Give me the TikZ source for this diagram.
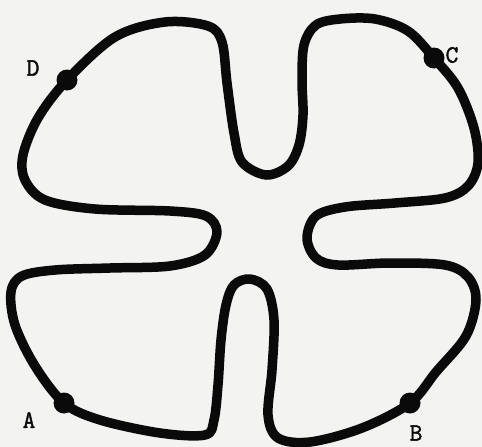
\documentclass[tikz,border=0pt]{standalone}
\usepackage{fontspec}
\newfontfamily\labelfont[FakeBold=1.5]{Latin Modern Mono}
\definecolor{paper}{HTML}{F3F3F1}
\definecolor{ink}{HTML}{0A0A0A}
\tikzset{
  loopline/.style={draw=ink,line width=9.5pt,line join=round},
  pointdot/.style={circle,fill=ink,inner sep=0pt,minimum size=21pt},
  ptlabel/.style={font=\labelfont\fontsize{25}{25}\selectfont,text=ink,inner sep=0pt}
}
\begin{document}
\begin{tikzpicture}[x=1pt,y=-1pt]
\fill[paper] (0,0) rectangle (482,447);
\useasboundingbox (0,0) rectangle (482,447);
\draw[loopline] plot[smooth cycle,tension=0.55] coordinates {
(266,175) (288,166) (299,145) (303,115) (302,80) (304,45) (316,25) (340,19)
(375,19) (408,31) (434,58) (458,88) (474,128) (478,163) (468,186) (445,198)
(395,203) (345,207) (316,216) (307,238) (316,258) (338,265) (390,263) (445,265)
(468,277) (476,300) (466,336) (436,372) (410,403) (362,428) (310,442) (278,438)
(268,415) (272,370) (274,320) (267,289) (250,279) (234,285) (226,305) (221,340)
(218,385) (214,420) (205,435) (160,433) (100,420) (64,403) (35,366) (15,325)
(11,292) (22,276) (55,270) (110,268) (170,266) (205,255) (217,232) (206,216)
(170,211) (95,209) (45,200) (25,180) (23,155) (38,118) (67,80) (115,37)
(165,22) (208,26) (222,42) (227,83) (234,133) (242,162)};
\node[pointdot] (D) at (67,80) {};
\node[pointdot] (C) at (434,58) {};
\node[pointdot] (A) at (64,403) {};
\node[pointdot] (B) at (410,403) {};
\node[ptlabel] (Dl) at (33,68) {D};
\node[ptlabel] (Cl) at (452,55) {C};
\node[ptlabel] (Al) at (29,420) {A};
\node[ptlabel] (Bl) at (416,433) {B};
\end{tikzpicture}
\end{document}
